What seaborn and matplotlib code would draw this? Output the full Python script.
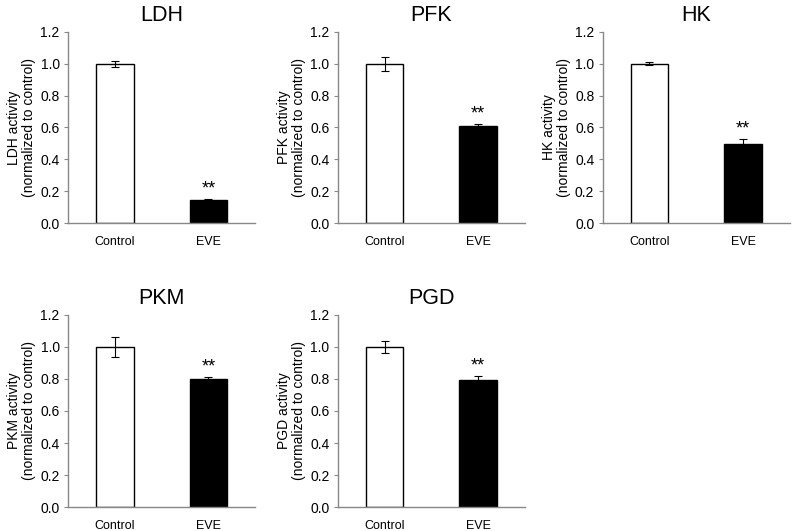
import numpy as np
import pandas as pd
import seaborn as sns
import matplotlib.pyplot as plt

sns.set_theme(style="white")
plt.rcParams['font.family'] = ['Liberation Sans', 'DejaVu Sans']
plt.rcParams.update({'text.color': 'black', 'axes.labelcolor': 'black',
                     'xtick.color': 'black', 'ytick.color': 'black'})

groups = ['Control', 'EVE']
enzymes = ['LDH', 'PFK', 'HK', 'PKM', 'PGD']
means = {
    'LDH': [1.0, 0.145],
    'PFK': [1.0, 0.61],
    'HK': [1.0, 0.495],
    'PKM': [1.0, 0.80],
    'PGD': [1.0, 0.795],
}
errs = {
    'LDH': [0.02, 0.008],
    'PFK': [0.045, 0.01],
    'HK': [0.01, 0.03],
    'PKM': [0.06, 0.01],
    'PGD': [0.035, 0.025],
}
sig = ['', '**']

# axes rectangles in figure fractions
rects = {
    'LDH': [0.0858, 0.580, 0.236, 0.360],
    'PFK': [0.426, 0.580, 0.236, 0.360],
    'HK': [0.760, 0.580, 0.236, 0.360],
    'PKM': [0.0858, 0.045, 0.236, 0.362],
    'PGD': [0.426, 0.045, 0.236, 0.362],
}

fig = plt.figure(figsize=(7.93, 5.31), dpi=100)

for name in enzymes:
    ax = fig.add_axes(rects[name])
    df = pd.DataFrame({'group': groups, 'value': means[name]})
    sns.barplot(data=df, x='group', y='value', hue='group',
                palette={'Control': 'white', 'EVE': 'black'},
                edgecolor='black', linewidth=1.0, width=0.4,
                errorbar=None, legend=False, ax=ax)
    ax.errorbar(np.arange(len(groups)), means[name], yerr=errs[name],
                fmt='none', ecolor='black', elinewidth=0.8, capsize=3, capthick=0.8)
    for i, s in enumerate(sig):
        if s:
            ax.text(i, means[name][i] + errs[name][i] + 0.01, s,
                    ha='center', va='bottom', fontsize=13, color='black')
    ax.set_xlim(-0.5, 1.5)
    ax.set_ylim(0, 1.2)
    ax.set_yticks(np.arange(0, 1.21, 0.2))
    ax.set_yticklabels([f'{v:.1f}' for v in np.arange(0, 1.21, 0.2)])
    ax.set_xlabel('')
    ax.set_ylabel(f'{name} activity\n(normalized to control)', fontsize=10,
                  labelpad=3, linespacing=1.1)
    ax.set_title(name, fontsize=15.5, pad=8, color='black')
    ax.tick_params(axis='y', left=True, length=3, width=0.8, color='#888888',
                   labelcolor='black', labelsize=10, pad=3)
    ax.tick_params(axis='x', bottom=False, labelcolor='black', labelsize=9, pad=3)
    sns.despine(ax=ax)
    for sp in ['left', 'bottom']:
        ax.spines[sp].set_color('#888888')
        ax.spines[sp].set_linewidth(1.0)

fig.savefig('out.png', dpi=100, facecolor='white')
